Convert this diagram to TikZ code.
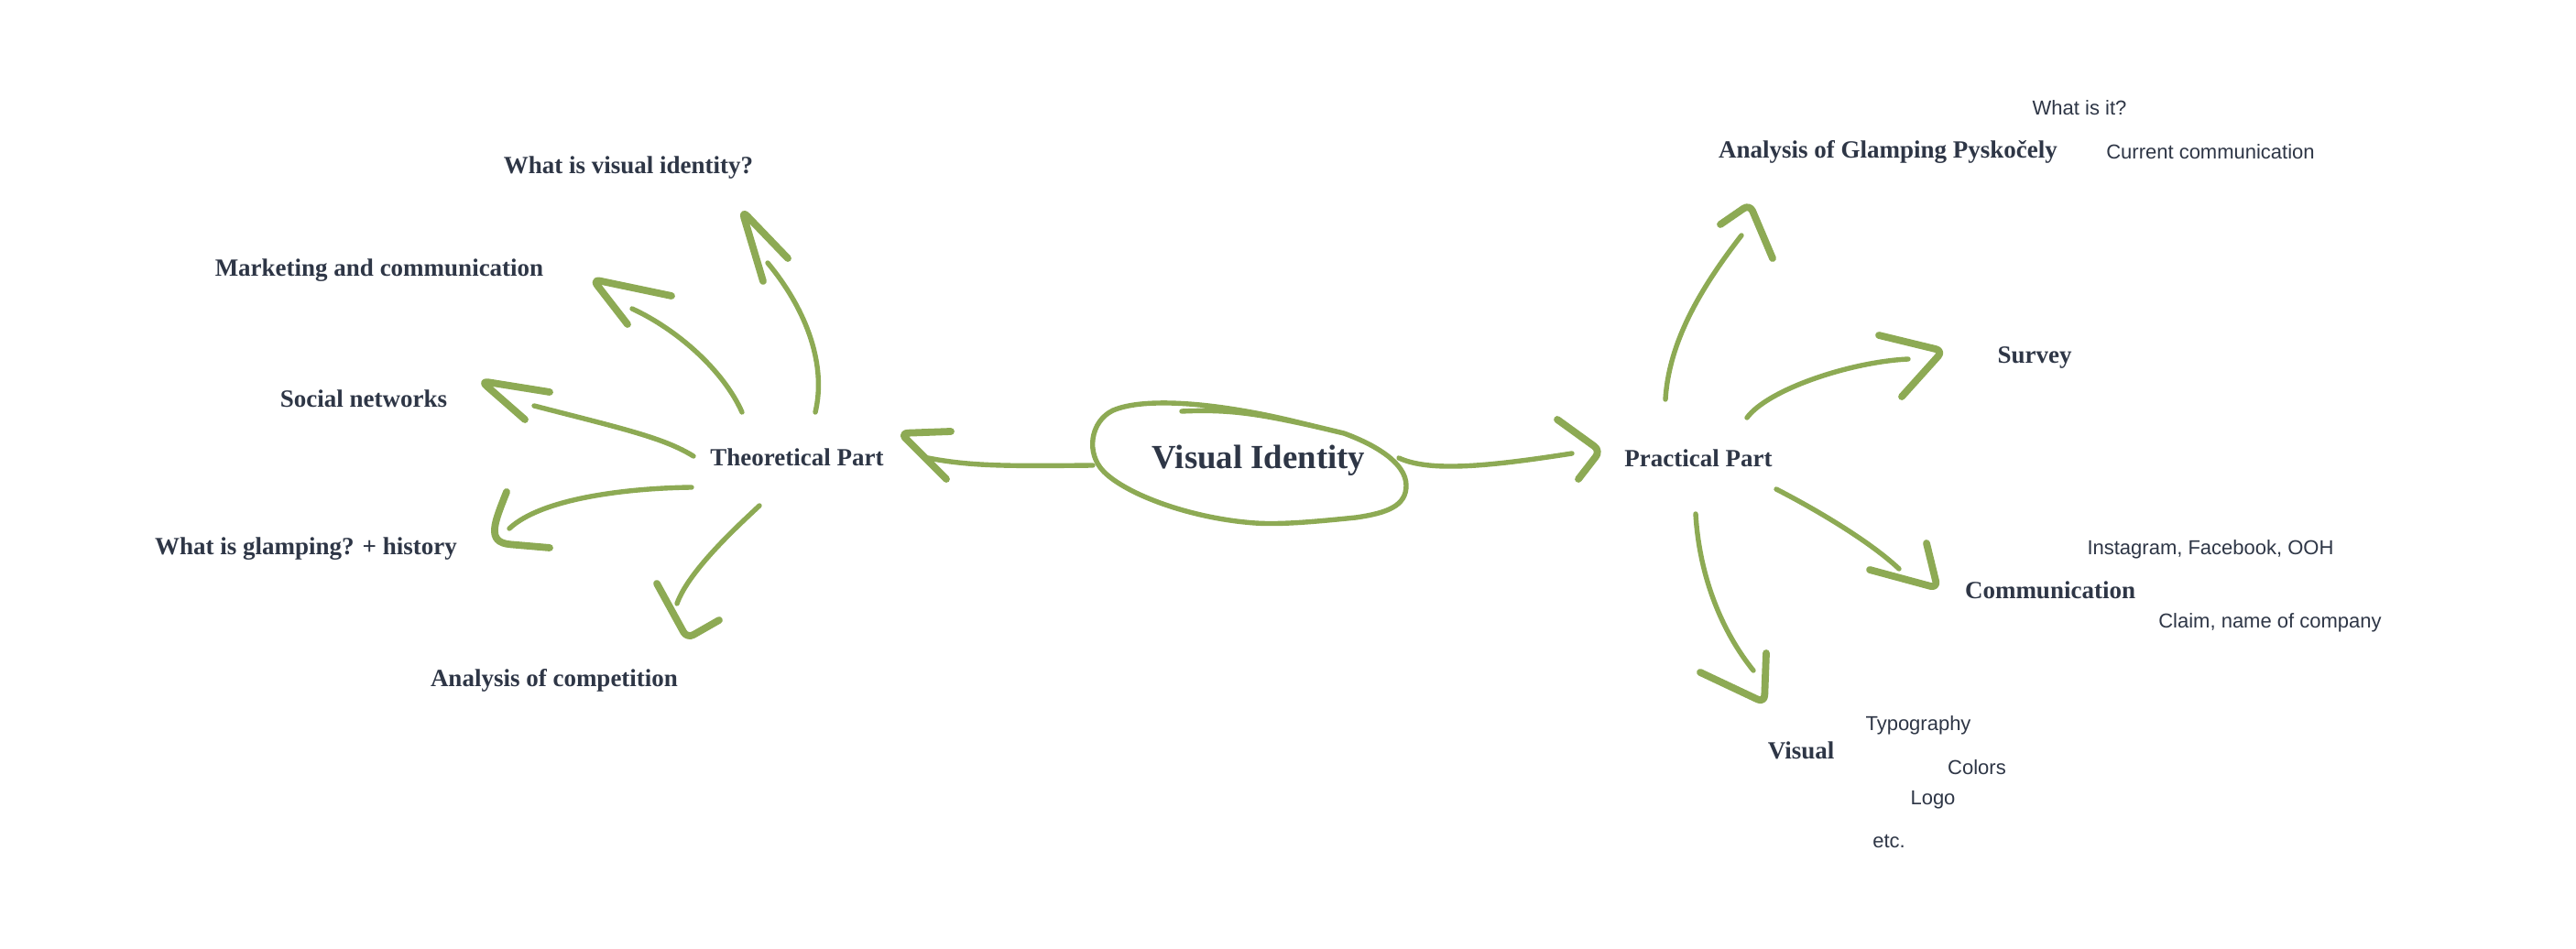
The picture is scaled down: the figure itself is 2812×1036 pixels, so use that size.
\documentclass[tikz,border=0pt]{standalone}
\usepackage{fontspec}
\setmainfont{Liberation Serif}
\newfontfamily\sansf{Liberation Sans}
\definecolor{ink}{RGB}{46,54,70}
\definecolor{leaf}{RGB}{141,170,84}
\begin{document}
\begin{tikzpicture}[x=0.5pt,y=-0.5pt,
  mainlbl/.style={font=\fontsize{18.4}{20}\selectfont\bfseries, text=ink, anchor=base, inner sep=0pt},
  lbl/.style={font=\fontsize{13.5}{15}\selectfont\bfseries, text=ink, anchor=base, inner sep=0pt},
  sub/.style={font=\sansf\fontsize{11}{13}\selectfont, text=ink, anchor=base, inner sep=0pt},
  shaft/.style={draw=leaf, line width=2.7pt, line cap=round, line join=round},
  head/.style={draw=leaf, line width=3.9pt, line cap=round, line join=round, rounded corners=4pt}]
\fill[white] (0,0) rectangle (2812,1036);
\useasboundingbox (0,0) rectangle (2812,1036);

% ---------- labels ----------
\node[mainlbl] (vi)   at (1374,512) {Visual Identity};
\node[lbl] (theo) at (870,509)  {Theoretical Part};
\node[lbl] (prac) at (1854,510) {Practical Part};
\node[lbl] (wvi)  at (686,190)  {What is visual identity?};
\node[lbl] (mkt)  at (414,302)  {Marketing and communication};
\node[lbl] (soc)  at (397,445)  {Social networks};
\node[lbl] (glam) at (334,606)  {What is glamping? + history};
\node[lbl] (comp) at (605,750)  {Analysis of competition};
\node[lbl] (agp)  at (2061,173) {Analysis of Glamping Pyskočely};
\node[lbl] (surv) at (2221,397) {Survey};
\node[lbl] (comm) at (2238,654) {Communication};
\node[lbl] (vis)  at (1966,829) {Visual};
\node[sub] (whatis) at (2270,126) {What is it?};
\node[sub] (curr)   at (2413,174) {Current communication};
\node[sub] (insta)  at (2413,606) {Instagram, Facebook, OOH};
\node[sub] (claim)  at (2478,686) {Claim, name of company};
\node[sub] (typo)   at (2094,798) {Typography};
\node[sub] (colors) at (2158,846) {Colors};
\node[sub] (logo)   at (2110,878) {Logo};
\node[sub] (etc)    at (2062,926) {etc.};

% ---------- hand-drawn loop around the centre ----------
\draw[shaft] (1290,449) .. controls (1330,447) and (1360,450) .. (1400,458)
  .. controls (1430,464) and (1450,469) .. (1467,473)
  .. controls (1500,485) and (1535,505) .. (1535,530)
  .. controls (1535,552) and (1515,560) .. (1480,565)
  .. controls (1440,569) and (1400,573) .. (1370,571)
  .. controls (1300,566) and (1230,540) .. (1205,515)
  .. controls (1185,495) and (1190,460) .. (1215,448)
  .. controls (1250,433) and (1330,440) .. (1413,460) -- (1467,473);

% ---------- connector end points ----------
\coordinate (vL) at (1193,508);  \coordinate (tR) at (1013,500);
\coordinate (vR) at (1527,500);  \coordinate (pL) at (1716,495);
\coordinate (t1) at (890,450);   \coordinate (e1) at (838,287);
\coordinate (t2) at (810,450);   \coordinate (e2) at (690,337);
\coordinate (t3) at (757,498);   \coordinate (e3) at (583,443);
\coordinate (t4) at (755,532);   \coordinate (e4) at (556,577);
\coordinate (t5) at (829,552);   \coordinate (e5) at (739,659);
\coordinate (p1) at (1818,436);  \coordinate (f1) at (1901,257);
\coordinate (p2) at (1907,456);  \coordinate (f2) at (2083,392);
\coordinate (p3) at (1939,534);  \coordinate (f3) at (2073,621);
\coordinate (p4) at (1851,561);  \coordinate (f4) at (1914,732);

% ---------- centre -> parts ----------
\draw[shaft] (vL) .. controls (1100,509) and (1060,509) .. (tR);
\draw[head] (1038,471) -- (983,473) -- (1033,523);
\draw[shaft] (vR) .. controls (1560,515) and (1620,510) .. (pL);
\draw[head] (1700,458) -- (1747,492) -- (1723,523);

% ---------- theoretical branches ----------
\draw[shaft] (t1) .. controls (902,400) and (882,340) .. (e1);
\draw[head] (833,307) -- (810,230) -- (860,282);
\draw[shaft] (t2) .. controls (790,405) and (740,360) .. (e2);
\draw[head] (685,354) -- (647,305) -- (733,323);
\draw[shaft] (t3) .. controls (725,478) and (680,468) .. (e3);
\draw[head] (600,428) -- (525,416) -- (573,458);
\draw[shaft] (t4) .. controls (680,533) and (590,545) .. (e4);
\draw[head] (553,537) .. controls (540,570) and (530,592) .. (565,595) -- (600,598);
\draw[shaft] (t5) .. controls (810,570) and (752,622) .. (e5);
\draw[head] (717,637) -- (750,697) -- (785,677);

% ---------- practical branches ----------
\draw[shaft] (p1) .. controls (1822,370) and (1860,310) .. (f1);
\draw[head] (1878,245) -- (1910,223) -- (1935,282);
\draw[shaft] (p2) .. controls (1930,425) and (2020,395) .. (f2);
\draw[head] (2051,366) -- (2121,383) -- (2076,433);
\draw[shaft] (p3) .. controls (1980,555) and (2040,590) .. (f3);
\draw[head] (2041,622) -- (2115,642) -- (2103,593);
\draw[shaft] (p4) .. controls (1855,630) and (1880,690) .. (f4);
\draw[head] (1856,734) -- (1926,767) -- (1928,713);
\end{tikzpicture}
\end{document}
